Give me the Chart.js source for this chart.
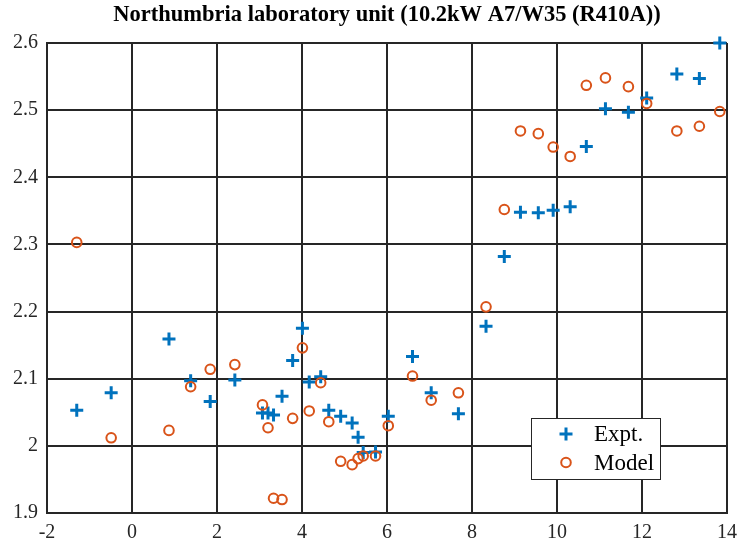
<!DOCTYPE html>
<html>
<head>
<meta charset="utf-8">
<style>
  body { margin: 0; background: #fff; }
  canvas { display: block; }
</style>
<script src="https://cdn.jsdelivr.net/npm/chart.js@4/dist/chart.umd.min.js"></script>
</head>
<body>
<canvas id="scatterChart" width="740" height="550"></canvas>
<script>
Chart.defaults.font.family = '"Liberation Serif", "Times New Roman", serif'
Chart.defaults.font.size = 20
Chart.defaults.color = '#262626'

const titleText = 'Northumbria laboratory unit (10.2kW A7/W35 (R410A))';
const seriesNames = ['Expt.', 'Model'];

const xValues = [
  -1.30, -0.49, 0.87, 1.38, 1.84, 2.42, 3.07, 3.20, 3.33, 3.53, 3.78, 4.01,
  4.17, 4.44, 4.63, 4.91, 5.18, 5.32, 5.44, 5.73, 6.03, 6.60, 7.04, 7.68,
  8.33, 8.76, 9.14, 9.56, 9.91, 10.31, 10.69, 11.14, 11.68, 12.11, 12.82,
  13.35, 13.83
];
const exptValues = [
  2.053, 2.079, 2.159, 2.097, 2.066, 2.098, 2.049, 2.049, 2.046, 2.074, 2.127,
  2.175, 2.095, 2.103, 2.053, 2.044, 2.034, 2.013, 1.990, 1.991, 2.044, 2.133,
  2.079, 2.048, 2.178, 2.282, 2.348, 2.347, 2.351, 2.356, 2.446, 2.502, 2.497,
  2.518, 2.554, 2.547, 2.600
];
const modelValues = [
  2.303, 2.012, 2.023, 2.088, 2.114, 2.121, 2.061, 2.027, 1.922, 1.920, 2.041,
  2.146, 2.052, 2.094, 2.036, 1.977, 1.972, 1.981, 1.985, 1.985, 2.030, 2.104,
  2.068, 2.079, 2.207, 2.352, 2.469, 2.465, 2.445, 2.431, 2.537, 2.548, 2.535,
  2.510, 2.469, 2.476, 2.498
];

const xTicks = [-2, 0, 2, 4, 6, 8, 10, 12, 14];
const xTickLabels = ['-2', '0', '2', '4', '6', '8', '10', '12', '14'];
const yTicks = [1.9, 2.0, 2.1, 2.2, 2.3, 2.4, 2.5, 2.6];
const yTickLabels = ['1.9', '2', '2.1', '2.2', '2.3', '2.4', '2.5', '2.6'];

const BLUE = '#0072BD';
const ORANGE = '#D95319';
const INK = '#262626';

const toPoints = (ys) => xValues.map((x, i) => ({ x: x, y: ys[i] }));

// boxed legend sitting in the lower right of the plot area
const insideLegend = {
  id: 'insideLegend',
  afterDatasetsDraw(chart) {
    const { ctx, chartArea } = chart;
    const w = 129, h = 61;
    const left = chartArea.right - 67 - w;
    const top = chartArea.bottom - 34 - h;
    ctx.save();
    ctx.fillStyle = '#fff';
    ctx.fillRect(left, top, w, h);
    ctx.strokeStyle = INK;
    ctx.lineWidth = 1;
    ctx.strokeRect(left + 0.5, top + 0.5, w, h);

    chart.data.datasets.forEach((ds, i) => {
      const mx = left + 35;
      const my = top + 16 + i * 28.5;
      ctx.strokeStyle = ds.borderColor;
      ctx.lineWidth = ds.borderWidth;
      ctx.beginPath();
      if (ds.pointStyle === 'cross') {
        ctx.moveTo(mx - ds.pointRadius, my);
        ctx.lineTo(mx + ds.pointRadius, my);
        ctx.moveTo(mx, my - ds.pointRadius);
        ctx.lineTo(mx, my + ds.pointRadius);
      } else {
        ctx.arc(mx, my, ds.pointRadius, 0, Math.PI * 2);
      }
      ctx.stroke();

      ctx.fillStyle = '#000';
      ctx.font = '23px "Liberation Serif", "Times New Roman", serif';
      ctx.textBaseline = 'middle';
      ctx.textAlign = 'left';
      ctx.fillText(ds.label, left + 63, my + 1);
    });
    ctx.restore();
  }
};

const renderScatterChart = () => {
  const scatterChart = document.getElementById('scatterChart');

  new Chart(scatterChart, {
    type: 'scatter',
    data: {
      datasets: [{
        label: seriesNames[0],
        data: toPoints(exptValues),
        pointStyle: 'cross',
        pointRadius: 6.5,
        borderWidth: 3,
        borderColor: BLUE,
        backgroundColor: BLUE,
        clip: false,
        order: 1
      }, {
        label: seriesNames[1],
        data: toPoints(modelValues),
        pointStyle: 'circle',
        pointRadius: 4.8,
        borderWidth: 2,
        borderColor: ORANGE,
        backgroundColor: 'transparent',
        clip: false,
        order: 0
      }]
    },
    options: {
      responsive: false,
      animation: false,
      layout: {
        padding: { left: 0, right: 13, top: 0, bottom: 0 }
      },
      plugins: {
        legend: { display: false },
        tooltip: { enabled: false },
        title: {
          display: true,
          fullSize: false,
          text: titleText,
          color: '#000',
          font: { size: 22.5, weight: 'bold' },
          padding: { top: 2, bottom: 14 }
        }
      },
      scales: {
        x: {
          type: 'linear',
          min: xTicks[0],
          max: xTicks[xTicks.length - 1],
          afterBuildTicks: (scale) => {
            scale.ticks = xTicks.map((v) => ({ value: v }));
          },
          afterFit: (scale) => {
            scale.height = 37;
            scale.paddingLeft = 0;
            scale.paddingRight = 0;
          },
          ticks: {
            padding: 8,
            maxRotation: 0,
            callback: (value, index) => xTickLabels[index]
          },
          grid: { color: INK, lineWidth: 2, drawTicks: false },
          border: { color: INK, width: 2 }
        },
        y: {
          type: 'linear',
          min: yTicks[0],
          max: yTicks[yTicks.length - 1],
          afterBuildTicks: (scale) => {
            scale.ticks = yTicks.map((v) => ({ value: v }));
          },
          afterFit: (scale) => {
            scale.width = 47;
            scale.paddingTop = 0;
            scale.paddingBottom = 0;
          },
          ticks: {
            padding: 9,
            callback: (value, index) => yTickLabels[index]
          },
          grid: { color: INK, lineWidth: 2, drawTicks: false },
          border: { color: INK, width: 2 }
        }
      }
    },
    plugins: [insideLegend]
  });
};

document.addEventListener('DOMContentLoaded', () => {
  renderScatterChart();
});
</script>
</body>
</html>
